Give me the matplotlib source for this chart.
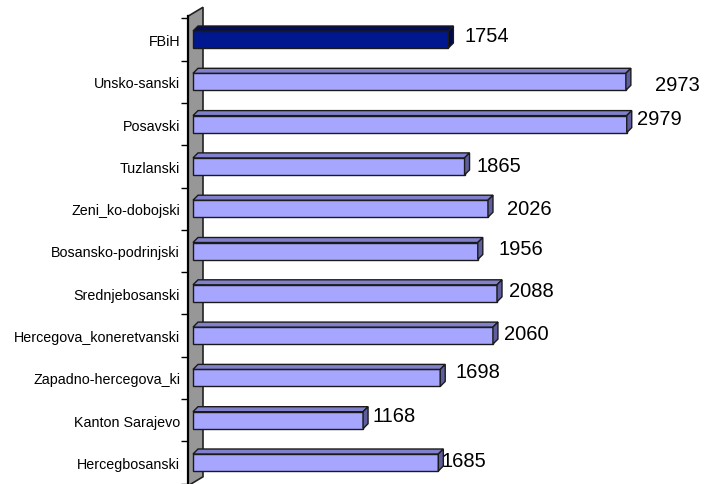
import matplotlib
matplotlib.use("Agg")
import matplotlib.pyplot as plt
from matplotlib.patches import Polygon, Rectangle

# ---- data ----
categories = ["FBiH", "Unsko-sanski", "Posavski", "Tuzlanski", "Zeni_ko-dobojski",
              "Bosansko-podrinjski", "Srednjebosanski", "Hercegova_koneretvanski",
              "Zapadno-hercegova_ki", "Kanton Sarajevo", "Hercegbosanski"]
values = [1754, 2973, 2979, 1865, 2026, 1956, 2088, 2060, 1698, 1168, 1685]
bar_labels = ["1754", "2973", "2979", "1865", "2026", "1956", "2088", "2060", "1698", "1168", "1685"]

# label offsets (pixels) from end of bar front face / bar centre
label_dx = [16.6, 29, 10.3, 12.2, 19.3, 20.5, 12, 11, 14.8, 9, 3.4]
label_dy = [-5.5, 1.2, -7.6, -2.4, -1.7, -4.5, -4.8, -4.1, -8.1, -6.7, -4]

W, H = 704, 485
fig = plt.figure(figsize=(W / 100, H / 100), dpi=100)

# pixel geometry
x0_px = 193.0          # value 0
k = 0.1456             # px per unit
c0_px = 40.5           # centre of first category
sp_px = 42.3           # category spacing
axes_left_px = 188.0

ax = fig.add_axes([axes_left_px / W, 0, 1 - axes_left_px / W, 1])
ax.set_xlim((axes_left_px - x0_px) / k, (W - x0_px) / k)
ax.set_ylim((H - c0_px) / sp_px, (0 - c0_px) / sp_px)
for s in ax.spines.values():
    s.set_visible(False)
ax.set_xticks([])

ux = 1 / k        # value units per px
uy = 1 / sp_px    # category units per px

# wall
wx0 = (axes_left_px - x0_px) / k
wdx, wdy = 15 * ux, 9 * uy
n = len(categories)
ytop, ybot = -0.5 - 0.05, n - 0.5 + 0.05
wall = Polygon([(wx0, ytop), (wx0 + wdx, ytop - wdy), (wx0 + wdx, ybot - wdy), (wx0, ybot)],
               closed=True, facecolor="#979797", edgecolor="#222222", lw=1.2, zorder=1, clip_on=False)
ax.add_patch(wall)
ax.plot([wx0, wx0], [ytop, ybot], color="black", lw=1.6, zorder=2, clip_on=False)

# bars
h = 17 * uy
dx, dy = 5 * ux, 5 * uy
for i, v in enumerate(values):
    if i == 0:
        front_c, top_c, side_c = "#00188F", "#000C5E", "#000850"
    else:
        front_c, top_c, side_c = "#A6A6FF", "#8080CC", "#5E5E9E"
    yt, yb = i - h / 2, i + h / 2
    ax.add_patch(Rectangle((0, yt), v, h, facecolor=front_c, edgecolor="#1a1a1a", lw=1.0, zorder=3))
    ax.add_patch(Polygon([(0, yt), (v, yt), (v + dx, yt - dy), (dx, yt - dy)], closed=True,
                         facecolor=top_c, edgecolor="#1a1a1a", lw=1.0, zorder=3))
    ax.add_patch(Polygon([(v, yt), (v + dx, yt - dy), (v + dx, yb - dy), (v, yb)], closed=True,
                         facecolor=side_c, edgecolor="#1a1a1a", lw=1.0, zorder=3))
    fs = 14.5
    ax.annotate(bar_labels[i], xy=(v, i), xytext=(label_dx[i] * 0.72, -(label_dy[i] + 0.358 * fs / 0.72) * 0.72),
                textcoords="offset points", ha="left", va="baseline",
                fontsize=fs, family="Liberation Sans", color="black", zorder=5)

# y ticks
ax.set_yticks(range(n))
ax.set_yticklabels(categories, family="Liberation Sans", fontsize=10.3)
ax.tick_params(axis="y", which="major", length=0, pad=8 * 0.72)
ax.set_yticks([i - 0.5 for i in range(n + 1)], minor=True)
ax.tick_params(axis="y", which="minor", length=7 * 0.72, width=1.0, color="black", direction="out")

fig.savefig("out.png", dpi=100)
